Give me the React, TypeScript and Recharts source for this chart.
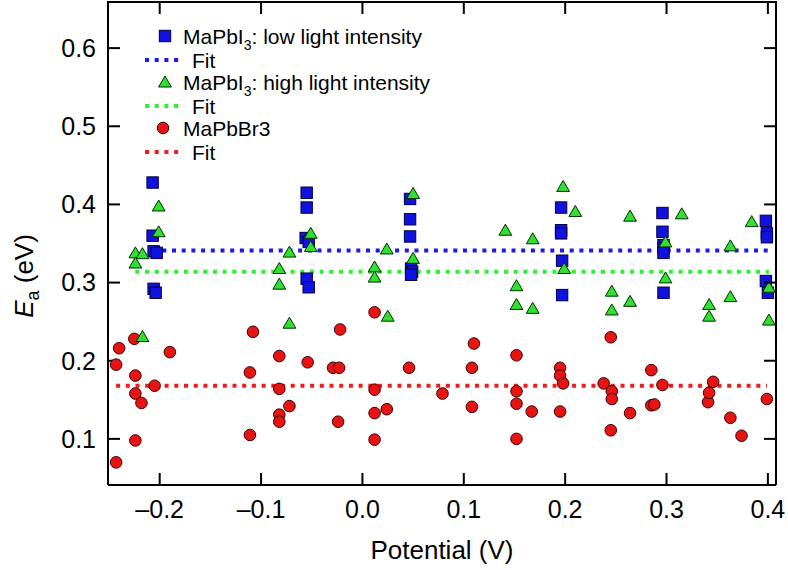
import React from 'react';
import { ScatterChart, Scatter, XAxis, YAxis, Legend } from 'recharts';

const xTicks = [-0.2, -0.1, 0, 0.1, 0.2, 0.3, 0.4];
const yTicks = [0.1, 0.2, 0.3, 0.4, 0.5, 0.6];
const xDomain = [-0.251, 0.408];
const yDomain = [0.041, 0.659];

// MaPbI3: low light intensity
const lowX = [-0.207, -0.207, -0.206, -0.203, -0.206, -0.204, -0.055, -0.055, -0.056, -0.053, -0.055, -0.053, 0.047, 0.047, 0.047, 0.048, 0.049, 0.048, 0.196, 0.196, 0.196, 0.197, 0.197, 0.296, 0.296, 0.297, 0.297, 0.297, 0.297, 0.398, 0.399, 0.399, 0.398, 0.4];
const lowY = [0.428, 0.36, 0.34, 0.338, 0.292, 0.287, 0.415, 0.396, 0.357, 0.352, 0.305, 0.294, 0.407, 0.381, 0.359, 0.318, 0.314, 0.31, 0.396, 0.367, 0.363, 0.328, 0.284, 0.389, 0.365, 0.348, 0.344, 0.338, 0.287, 0.379, 0.363, 0.358, 0.302, 0.287];

// MaPbI3: high light intensity
const highX = [-0.224, -0.217, -0.224, -0.217, -0.201, -0.201, -0.082, -0.082, -0.072, -0.072, -0.051, -0.051, 0.012, 0.012, 0.024, 0.025, 0.05, 0.05, 0.141, 0.152, 0.152, 0.168, 0.168, 0.198, 0.21, 0.199, 0.246, 0.246, 0.264, 0.264, 0.299, 0.299, 0.315, 0.342, 0.342, 0.363, 0.363, 0.384, 0.401, 0.401];
const highY = [0.338, 0.337, 0.325, 0.231, 0.398, 0.365, 0.318, 0.298, 0.339, 0.248, 0.363, 0.346, 0.32, 0.307, 0.343, 0.257, 0.414, 0.331, 0.367, 0.296, 0.272, 0.356, 0.267, 0.423, 0.391, 0.318, 0.289, 0.265, 0.276, 0.385, 0.352, 0.306, 0.388, 0.272, 0.257, 0.347, 0.282, 0.378, 0.294, 0.252];

// MaPbBr3
const brX = [-0.243, -0.24, -0.243, -0.225, -0.224, -0.224, -0.218, -0.224, -0.205, -0.19, -0.108, -0.111, -0.111, -0.082, -0.082, -0.072, -0.082, -0.082, -0.054, -0.029, -0.023, -0.022, -0.024, 0.012, 0.012, 0.012, 0.012, 0.024, 0.046, 0.079, 0.11, 0.108, 0.108, 0.152, 0.152, 0.152, 0.152, 0.167, 0.195, 0.195, 0.198, 0.195, 0.245, 0.238, 0.246, 0.246, 0.245, 0.264, 0.285, 0.285, 0.288, 0.296, 0.341, 0.342, 0.346, 0.363, 0.374, 0.399];
const brY = [0.195, 0.216, 0.07, 0.228, 0.181, 0.158, 0.146, 0.098, 0.168, 0.211, 0.237, 0.185, 0.105, 0.206, 0.164, 0.142, 0.131, 0.122, 0.198, 0.191, 0.191, 0.24, 0.122, 0.262, 0.163, 0.133, 0.099, 0.138, 0.191, 0.158, 0.222, 0.191, 0.141, 0.207, 0.161, 0.145, 0.1, 0.135, 0.191, 0.181, 0.171, 0.135, 0.23, 0.171, 0.161, 0.151, 0.111, 0.133, 0.188, 0.143, 0.144, 0.169, 0.147, 0.159, 0.173, 0.127, 0.104, 0.151];

const lowFit = 0.341;
const highFit = 0.314;
const brFit = 0.168;

const seriesNames = ['MaPbI3: low light intensity', 'Fit', 'MaPbI3: high light intensity', 'Fit', 'MaPbBr3', 'Fit'];

const FONT = '"Liberation Sans", Arial, Helvetica, sans-serif';
const BLUE = '#1212e0';
const GREEN = '#30e030';
const RED = '#e81414';
const BLUE_FIT = '#1a1aee';
const GREEN_FIT = '#2ef02e';
const RED_FIT = '#ee1c1c';

// layout
const W = 788;
const H = 570;
const M_TOP = 2;
const M_RIGHT = 12;
const Y_AXIS_W = 108;
const X_AXIS_H = 85;
const PLOT_LEFT = Y_AXIS_W;
const PLOT_TOP = M_TOP;
const PLOT_RIGHT = W - M_RIGHT;
const PLOT_BOTTOM = H - X_AXIS_H;
const TICK = 12;

const toPts = (xs: number[], ys: number[]) => xs.map((x, i) => ({ x, y: ys[i] }));
const fitPts = (xs: number[], v: number) => [
  { x: Math.min(...xs), y: v },
  { x: Math.max(...xs), y: v },
];

const lowData = toPts(lowX, lowY);
const highData = toPts(highX, highY);
const brData = toPts(brX, brY);

// same linear mapping as the plot area, used only for the mirrored frame ticks
const px = (v: number) => PLOT_LEFT + ((v - xDomain[0]) / (xDomain[1] - xDomain[0])) * (PLOT_RIGHT - PLOT_LEFT);
const py = (v: number) => PLOT_TOP + ((yDomain[1] - v) / (yDomain[1] - yDomain[0])) * (PLOT_BOTTOM - PLOT_TOP);

const SquareShape = (p: any) => (
  <rect x={p.cx - 5.7} y={p.cy - 5.7} width={11.4} height={11.4} fill={BLUE} stroke="#000040" strokeWidth={1} />
);
const TriShape = (p: any) => (
  <polygon
    points={`${p.cx - 6.4},${p.cy + 5} ${p.cx + 6.4},${p.cy + 5} ${p.cx},${p.cy - 6}`}
    fill={GREEN}
    stroke="#003000"
    strokeWidth={1}
  />
);
const CircleShape = (p: any) => (
  <circle cx={p.cx} cy={p.cy} r={5.8} fill={RED} stroke="#3a0000" strokeWidth={1} />
);
const NoShape = () => <g />;

const fmt = (v: number) => (v < 0 ? '\u2013' : '') + Math.abs(v).toFixed(1);

const YLabel = () => {
  const cx = 33;
  const cy = 276;
  return (
    <text transform={`rotate(-90, ${cx}, ${cy})`} x={cx} y={cy} textAnchor="middle" fontSize={26} fontFamily={FONT} fill="#000">
      <tspan fontStyle="italic">E</tspan>
      <tspan fontSize={18} dy={6}>a</tspan>
      <tspan dy={-6}>{'\u00A0(eV)'}</tspan>
    </text>
  );
};

const rowY = [36, 60, 82, 106, 128, 152];

const renderName = (name: string, x: number, y: number) => {
  const m = name.match(/^(MaPbI)3(.*)$/);
  if (m) {
    return (
      <text x={x} y={y} fontSize={21} fontFamily={FONT} fill="#000" dominantBaseline="central">
        <tspan>{m[1]}</tspan>
        <tspan fontSize={14} dy={9}>3</tspan>
        <tspan dy={-9}>{m[2]}</tspan>
      </text>
    );
  }
  return (
    <text x={x} y={y} fontSize={21} fontFamily={FONT} fill="#000" dominantBaseline="central">
      {name}
    </text>
  );
};

const LegendContent = () => {
  const markers = [
    <rect key="m0" x={165 - 5.7} y={rowY[0] - 5.7} width={11.4} height={11.4} fill={BLUE} stroke="#000040" strokeWidth={1} />,
    <line key="m1" x1={145} x2={182} y1={rowY[1]} y2={rowY[1]} stroke={BLUE_FIT} strokeWidth={4} strokeDasharray="4 5.7" />,
    <polygon key="m2" points={`${165 - 6.4},${rowY[2] + 5} ${165 + 6.4},${rowY[2] + 5} ${165},${rowY[2] - 6}`} fill={GREEN} stroke="#003000" strokeWidth={1} />,
    <line key="m3" x1={145} x2={182} y1={rowY[3]} y2={rowY[3]} stroke={GREEN_FIT} strokeWidth={4} strokeDasharray="4 5.7" />,
    <circle key="m4" cx={163} cy={rowY[4]} r={5.8} fill={RED} stroke="#3a0000" strokeWidth={1} />,
    <line key="m5" x1={145} x2={182} y1={rowY[5]} y2={rowY[5]} stroke={RED_FIT} strokeWidth={4} strokeDasharray="4 5.7" />,
  ];
  return (
    <svg width={W} height={H} style={{ display: 'block', pointerEvents: 'none' }}>
      {/* frame: top and right sides with mirrored inward ticks */}
      <line x1={PLOT_LEFT - 1} x2={PLOT_RIGHT + 1} y1={PLOT_TOP} y2={PLOT_TOP} stroke="#000" strokeWidth={2} />
      <line x1={PLOT_RIGHT} x2={PLOT_RIGHT} y1={PLOT_TOP} y2={PLOT_BOTTOM} stroke="#000" strokeWidth={2} />
      {xTicks.map((t) => (
        <line key={'tx' + t} x1={px(t)} x2={px(t)} y1={PLOT_TOP} y2={PLOT_TOP + TICK} stroke="#000" strokeWidth={2} />
      ))}
      {yTicks.map((t) => (
        <line key={'ty' + t} x1={PLOT_RIGHT - TICK} x2={PLOT_RIGHT} y1={py(t)} y2={py(t)} stroke="#000" strokeWidth={2} />
      ))}
      {markers}
      {seriesNames.map((n, i) => (
        <g key={'t' + i}>{renderName(n, n === 'Fit' ? 192 : 183, rowY[i])}</g>
      ))}
    </svg>
  );
};

const axisLine = { stroke: '#000', strokeWidth: 2 };
const tickLine = { stroke: '#000', strokeWidth: 2 };
const tickStyle = { fontSize: 25, fill: '#000', fontFamily: FONT };

export default function App() {
  return (
    <div style={{ height: H - 8 }}>
      <div style={{ position: 'fixed', top: 0, left: 0, width: W, height: H, background: '#fff' }}>
        <ScatterChart width={W} height={H} margin={{ top: M_TOP, right: M_RIGHT, bottom: 0, left: 0 }}>
          <XAxis xAxisId="b" type="number" dataKey="x" domain={xDomain} allowDataOverflow ticks={xTicks} tickFormatter={fmt} height={X_AXIS_H} axisLine={axisLine} tickLine={tickLine} tickSize={-TICK} tickMargin={27} tick={tickStyle} interval={0}
            label={{ value: 'Potential (V)', position: 'insideBottom', offset: 11, fontSize: 26, fill: '#000', fontFamily: FONT }} />
          <YAxis yAxisId="l" type="number" dataKey="y" domain={yDomain} allowDataOverflow ticks={yTicks} tickFormatter={fmt} width={Y_AXIS_W} axisLine={axisLine} tickLine={tickLine} tickSize={-TICK} tickMargin={24} tick={tickStyle} interval={0} label={<YLabel />} />
          <Scatter xAxisId="b" yAxisId="l" data={fitPts(brX, brFit)} line={{ stroke: RED_FIT, strokeWidth: 4, strokeDasharray: '4 5.7' }} shape={NoShape} isAnimationActive={false} legendType="none" />
          <Scatter xAxisId="b" yAxisId="l" data={fitPts(highX, highFit)} line={{ stroke: GREEN_FIT, strokeWidth: 4, strokeDasharray: '4 5.7' }} shape={NoShape} isAnimationActive={false} legendType="none" />
          <Scatter xAxisId="b" yAxisId="l" data={fitPts(lowX, lowFit)} line={{ stroke: BLUE_FIT, strokeWidth: 4, strokeDasharray: '4 5.7' }} shape={NoShape} isAnimationActive={false} legendType="none" />
          <Scatter xAxisId="b" yAxisId="l" data={brData} shape={CircleShape} isAnimationActive={false} />
          <Scatter xAxisId="b" yAxisId="l" data={lowData} shape={SquareShape} isAnimationActive={false} />
          <Scatter xAxisId="b" yAxisId="l" data={highData} shape={TriShape} isAnimationActive={false} />
          <Legend layout="vertical" align="center" verticalAlign="middle" content={<LegendContent />}
            wrapperStyle={{ position: 'absolute', top: 0, left: 0, width: W, height: H, pointerEvents: 'none' }} />
        </ScatterChart>
      </div>
    </div>
  );
}
